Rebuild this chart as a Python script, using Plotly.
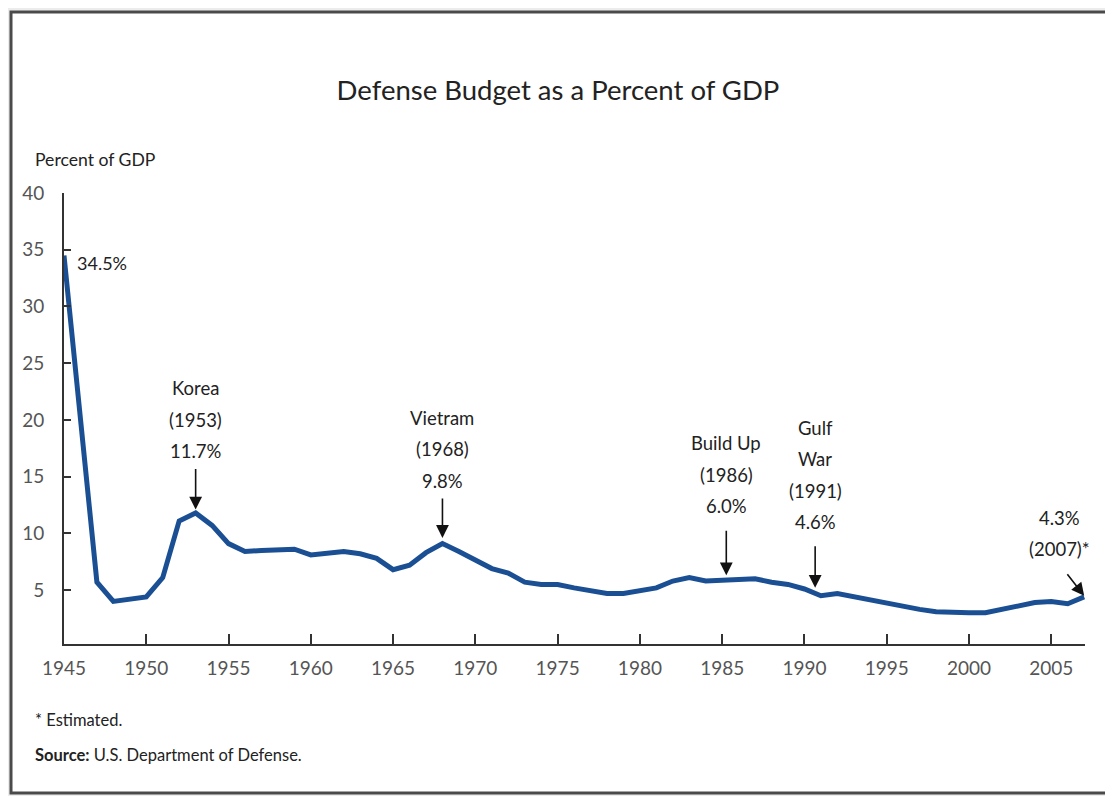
import plotly.graph_objects as go

years = list(range(1945, 2008))
pct_gdp = [
    34.5, 20.2, 5.7, 4.0, 4.2, 4.4, 6.1, 11.1, 11.8, 10.7,
    9.1, 8.4, 8.5, 8.6, 8.6, 8.1, 8.3, 8.4, 8.2, 7.8,
    6.8, 7.2, 8.3, 9.1, 8.4, 7.7, 6.9, 6.5, 5.7, 5.5,
    5.5, 5.2, 4.9, 4.7, 4.7, 4.9, 5.2, 5.8, 6.1, 5.8,
    5.9, 6.0, 6.0, 5.7, 5.5, 5.1, 4.5, 4.7, 4.4, 4.1,
    3.8, 3.5, 3.3, 3.1, 3.0, 3.0, 3.0, 3.3, 3.7, 3.9,
    4.0, 3.8, 4.4,
]

x_ticks = list(range(1945, 2006, 5))
y_ticks = [5, 10, 15, 20, 25, 30, 35, 40]

# event annotations: (lines, text x, text bottom y, arrow x, arrow head y, ax, ay)
events = [
    (["Korea", "(1953)", "11.7%"], 1953, 16.1, 1953, 12.1, 0, -42),
    (["Vietram", "(1968)", "9.8%"], 1968, 13.5, 1968, 9.6, 0, -41),
    (["Build Up", "(1986)", "6.0%"], 1985.25, 11.25, 1985.25, 6.3, 0, -46),
    (["Gulf", "War", "(1991)", "4.6%"], 1990.65, 9.85, 1990.65, 5.2, 0, -43),
    (["4.3%", "(2007)*"], 2005.5, 7.45, 2007, 4.5, -18, -23),
]

FONT = "Lato, sans-serif"
LINE_BLUE = "#1b4f93"
LINE_GAP = 31.5

# the page body adds an 8px offset; figure is sized so the window layout matches
OFF = 8
W, H = 1113 - OFF, 796 - OFF
PL, PR, PT, PB = 64, 1085, 193, 644  # plot area in window pixels
PW, PH = PR - PL, PB - PT

fig = go.Figure()
fig.add_trace(go.Scatter(
    x=years, y=pct_gdp, mode="lines",
    line=dict(color=LINE_BLUE, width=5),
    hoverinfo="x+y", showlegend=False,
))

annotations = []
for lines, tx, ty, hx, hy, ax, ay in events:
    for i, ln in enumerate(reversed(lines)):
        annotations.append(dict(
            x=tx, y=ty, xref="x", yref="y", text=ln, showarrow=False,
            xanchor="center", yanchor="bottom", yshift=i * LINE_GAP,
            font=dict(family=FONT, size=18.5, color="#222"),
        ))
    annotations.append(dict(
        x=hx, y=hy, xref="x", yref="y", text="", showarrow=True,
        ax=ax, ay=ay, arrowhead=2, arrowsize=1.6, arrowwidth=1.6,
        arrowcolor="#111",
    ))

annotations.append(dict(
    x=1945.65, y=33.8, xref="x", yref="y", text="34.5%", showarrow=False,
    xanchor="left", yanchor="middle",
    font=dict(family=FONT, size=18, color="#222"),
))
annotations.append(dict(
    x=(33 - PL) / PW, y=(PB - 160) / PH, xref="paper", yref="paper",
    text="Percent of GDP", showarrow=False, xanchor="left", yanchor="middle",
    font=dict(family=FONT, size=17.6, color="#222"),
))
annotations.append(dict(
    x=(33 - PL) / PW, y=(PB - 720) / PH, xref="paper", yref="paper",
    text="* Estimated.", showarrow=False, xanchor="left", yanchor="middle",
    font=dict(family=FONT, size=16.5, color="#222"),
))
annotations.append(dict(
    x=(33 - PL) / PW, y=(PB - 755) / PH, xref="paper", yref="paper",
    text="<b>Source:</b> U.S. Department of Defense.",
    showarrow=False, xanchor="left", yanchor="middle",
    font=dict(family=FONT, size=16.5, color="#222"),
))

fig.update_layout(
    width=W, height=H,
    margin=dict(l=PL - OFF, r=W - (PR - OFF), t=PT - OFF, b=H - (PB - OFF),
                autoexpand=False),
    paper_bgcolor="white", plot_bgcolor="white",
    title=dict(text="Defense Budget as a Percent of GDP",
               x=(558 - OFF) / W, xanchor="center",
               y=1 - (90 - OFF) / H, yanchor="middle", yref="container",
               font=dict(family=FONT, size=27.5, color="#222")),
    xaxis=dict(range=[1945, 2007.05], tickvals=x_ticks, ticks="inside", ticklen=10,
               tickwidth=2, tickcolor="#333", showline=True, linecolor="#333",
               linewidth=2, showgrid=False, zeroline=False, automargin=False,
               ticklabelstandoff=6,
               tickfont=dict(family=FONT, size=19, color="#555")),
    yaxis=dict(range=[0.25, 40], tickvals=y_ticks, ticks="inside", ticklen=7,
               tickwidth=2, tickcolor="#333", showline=True, linecolor="#333",
               linewidth=2, showgrid=False, zeroline=False, automargin=False,
               ticklabelstandoff=14,
               tickfont=dict(family=FONT, size=19, color="#555")),
    annotations=annotations,
)

# page frame (3D-style border around the chart)
frame = [
    dict(type="rect", xref="paper", yref="paper",
         x0=(0 - PL) / PW, x1=(1113 - PL) / PW,
         y0=(PB - 796) / PH, y1=(PB - 0) / PH,
         line=dict(width=0), fillcolor="#ececec", layer="below"),
    dict(type="rect", xref="paper", yref="paper",
         x0=(11 - PL) / PW, x1=(1108 - PL) / PW,
         y0=(PB - 793) / PH, y1=(PB - 12) / PH,
         line=dict(color="#4a4a4a", width=3), fillcolor="white", layer="below"),
]
fig.update_layout(shapes=frame)

fig.write_html("out.html")
